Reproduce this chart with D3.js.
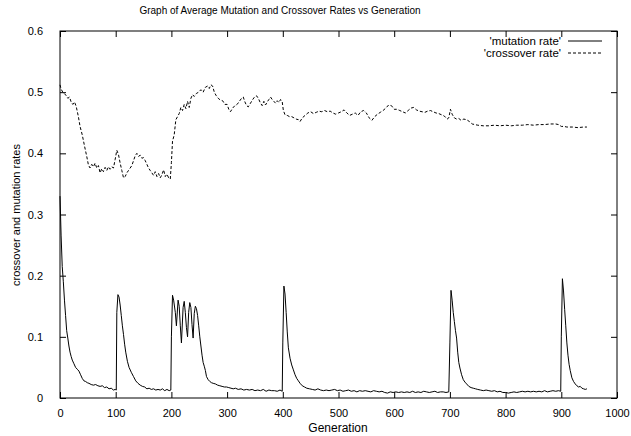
<!DOCTYPE html>
<html>
<head>
<meta charset="utf-8">
<script src="https://cdn.jsdelivr.net/npm/d3@7"></script>
<style>
  body { margin: 0; background: #fff; }
  svg { display: block; font-family: "Liberation Sans", Arial, sans-serif; }
</style>
</head>
<body>
<svg id="chart" width="631" height="436"></svg>
<script>
// crossover rate, [generation, value]
const crossoverRate = [
  [0,0.512],[2,0.505],[5,0.500],[8,0.497],[11,0.495],[14,0.490],[17,0.492],[20,0.484],[23,0.480],[26,0.484],
  [29,0.477],[33,0.460],[36,0.444],[40,0.430],[44,0.412],[48,0.395],[51,0.381],[54,0.376],[57,0.382],[60,0.378],
  [63,0.384],[66,0.376],[69,0.380],[72,0.368],[75,0.375],[78,0.370],[81,0.377],[84,0.372],[87,0.378],[90,0.374],
  [93,0.378],[96,0.376],[99,0.390],[102,0.405],[105,0.398],[108,0.384],[111,0.372],[114,0.360],[117,0.362],[120,0.368],
  [123,0.372],[126,0.376],[129,0.380],[132,0.388],[135,0.396],[138,0.400],[141,0.395],[144,0.397],[147,0.392],[150,0.393],
  [153,0.388],[156,0.382],[159,0.376],[162,0.372],[165,0.368],[168,0.364],[171,0.370],[174,0.362],[177,0.367],[180,0.360],
  [183,0.365],[186,0.373],[189,0.362],[192,0.366],[195,0.360],[198,0.358],[200,0.385],[202,0.420],[205,0.430],[208,0.455],
  [211,0.460],[214,0.465],[217,0.475],[220,0.470],[223,0.480],[226,0.473],[229,0.485],[232,0.475],[235,0.490],[238,0.496],
  [241,0.493],[245,0.498],[249,0.500],[253,0.504],[257,0.500],[261,0.508],[265,0.510],[268,0.506],[271,0.512],[274,0.510],
  [277,0.500],[280,0.495],[284,0.490],[288,0.487],[292,0.486],[296,0.480],[300,0.480],[303,0.472],[306,0.468],[310,0.474],
  [314,0.478],[318,0.480],[322,0.485],[326,0.490],[329,0.492],[332,0.484],[335,0.478],[338,0.476],[342,0.482],[346,0.488],
  [350,0.493],[353,0.494],[356,0.490],[360,0.482],[363,0.478],[366,0.485],[369,0.479],[372,0.484],[375,0.488],[378,0.492],
  [381,0.488],[384,0.485],[387,0.482],[390,0.486],[393,0.483],[396,0.488],[399,0.484],[401,0.470],[404,0.463],[408,0.462],
  [412,0.460],[416,0.460],[420,0.458],[424,0.456],[428,0.455],[431,0.452],[435,0.458],[440,0.462],[445,0.466],[450,0.468],
  [455,0.465],[460,0.467],[465,0.469],[470,0.468],[475,0.470],[480,0.468],[485,0.469],[490,0.466],[495,0.464],[500,0.466],
  [505,0.468],[510,0.471],[515,0.466],[520,0.462],[525,0.464],[530,0.466],[535,0.462],[540,0.468],[545,0.470],[550,0.466],
  [555,0.458],[560,0.454],[565,0.460],[570,0.464],[575,0.467],[580,0.470],[585,0.474],[590,0.479],[595,0.478],[600,0.472],
  [605,0.472],[610,0.470],[615,0.468],[620,0.466],[625,0.470],[630,0.474],[635,0.475],[640,0.471],[645,0.469],[650,0.468],
  [655,0.467],[660,0.469],[665,0.470],[670,0.468],[675,0.466],[680,0.465],[685,0.463],[690,0.461],[695,0.456],[698,0.458],
  [701,0.472],[704,0.464],[708,0.458],[712,0.456],[716,0.457],[720,0.454],[725,0.456],[730,0.455],[735,0.452],[740,0.448],
  [745,0.447],[750,0.446],[760,0.445],[770,0.445],[780,0.446],[790,0.445],[800,0.446],[810,0.445],[820,0.446],[830,0.446],
  [840,0.447],[850,0.446],[860,0.447],[870,0.447],[880,0.448],[890,0.448],[895,0.447],[900,0.444],[905,0.444],[910,0.443],
  [920,0.443],[930,0.442],[940,0.443],[946,0.443]
];

// mutation rate, [generation, value]
const mutationRate = [
  [0,0.330],[2,0.265],[4,0.215],[6,0.190],[8,0.160],[10,0.135],[12,0.110],[14,0.098],[16,0.085],[18,0.075],
  [20,0.068],[22,0.062],[25,0.056],[28,0.050],[31,0.047],[34,0.044],[37,0.038],[40,0.032],[43,0.028],[46,0.027],
  [49,0.025],[52,0.024],[56,0.022],[60,0.021],[64,0.022],[68,0.020],[72,0.019],[76,0.020],[80,0.017],[84,0.018],
  [88,0.015],[92,0.016],[96,0.013],[99,0.014],[101,0.013],[102,0.140],[104,0.169],[106,0.165],[108,0.152],[110,0.135],
  [112,0.118],[114,0.104],[116,0.088],[118,0.075],[121,0.060],[124,0.050],[128,0.042],[132,0.035],[136,0.028],[140,0.024],
  [144,0.021],[148,0.019],[152,0.018],[156,0.015],[160,0.016],[164,0.014],[168,0.015],[172,0.013],[176,0.014],[180,0.013],
  [184,0.015],[188,0.012],[192,0.014],[196,0.012],[199,0.013],[200,0.100],[202,0.168],[204,0.160],[207,0.140],[209,0.118],
  [212,0.160],[214,0.150],[216,0.118],[218,0.090],[221,0.148],[223,0.158],[225,0.140],[227,0.115],[229,0.100],[231,0.140],
  [233,0.156],[235,0.148],[237,0.120],[239,0.098],[241,0.138],[243,0.150],[245,0.146],[247,0.135],[249,0.118],[251,0.100],
  [253,0.085],[255,0.070],[257,0.058],[259,0.052],[261,0.045],[263,0.035],[266,0.030],[269,0.027],[272,0.025],[275,0.024],
  [279,0.023],[283,0.021],[287,0.020],[291,0.019],[295,0.018],[299,0.018],[303,0.017],[307,0.016],[311,0.015],[315,0.016],
  [320,0.014],[325,0.015],[330,0.013],[335,0.014],[340,0.013],[345,0.014],[350,0.012],[355,0.013],[360,0.012],[365,0.014],
  [370,0.011],[375,0.013],[380,0.012],[385,0.012],[390,0.011],[395,0.013],[399,0.011],[400,0.090],[402,0.183],[404,0.170],
  [406,0.140],[408,0.108],[410,0.082],[413,0.065],[416,0.054],[419,0.046],[422,0.038],[425,0.032],[428,0.028],[431,0.024],
  [435,0.020],[439,0.018],[443,0.016],[448,0.015],[453,0.014],[458,0.013],[463,0.015],[468,0.013],[473,0.012],[478,0.013],
  [483,0.012],[488,0.013],[493,0.014],[498,0.012],[503,0.013],[508,0.011],[513,0.012],[518,0.013],[523,0.011],[528,0.012],
  [533,0.010],[538,0.012],[543,0.011],[548,0.012],[553,0.011],[558,0.010],[563,0.012],[568,0.011],[573,0.010],[578,0.011],
  [583,0.009],[588,0.008],[593,0.010],[598,0.009],[603,0.010],[608,0.009],[613,0.010],[618,0.009],[623,0.010],[628,0.009],
  [633,0.011],[638,0.009],[643,0.010],[648,0.009],[653,0.011],[658,0.010],[663,0.009],[668,0.010],[673,0.011],[678,0.009],
  [683,0.010],[688,0.010],[693,0.009],[698,0.010],[700,0.090],[702,0.176],[704,0.160],[706,0.140],[708,0.125],[710,0.110],
  [712,0.098],[714,0.075],[716,0.058],[718,0.049],[721,0.038],[724,0.030],[727,0.026],[730,0.023],[734,0.019],[738,0.017],
  [742,0.016],[746,0.015],[750,0.014],[755,0.013],[760,0.012],[765,0.013],[770,0.012],[775,0.011],[780,0.012],[785,0.010],
  [790,0.011],[795,0.009],[800,0.009],[805,0.008],[810,0.009],[815,0.010],[820,0.009],[825,0.010],[830,0.011],[835,0.010],
  [840,0.011],[845,0.010],[850,0.011],[855,0.010],[860,0.011],[865,0.010],[870,0.012],[875,0.010],[880,0.011],[885,0.012],
  [890,0.011],[895,0.012],[899,0.011],[900,0.100],[902,0.195],[904,0.175],[906,0.145],[908,0.118],[910,0.090],[912,0.070],
  [914,0.055],[916,0.045],[919,0.033],[922,0.027],[925,0.023],[928,0.020],[931,0.018],[934,0.019],[937,0.016],[940,0.015],
  [943,0.014],[946,0.015]
];

const xTicks = [0, 100, 200, 300, 400, 500, 600, 700, 800, 900, 1000];
const yTicks = [0, 0.1, 0.2, 0.3, 0.4, 0.5, 0.6];
const seriesNames = ["'mutation rate'", "'crossover rate'"];

const plotLeft = 60, plotRight = 617, plotTop = 31, plotBottom = 398;
const svg = d3.select('#chart');

const x = d3.scaleLinear().domain([0, 1000]).range([plotLeft, plotRight]);
const y = d3.scaleLinear().domain([0, 0.6]).range([plotBottom, plotTop]);

// axes, gnuplot style: ticks inward and mirrored
const tickLen = 6;
svg.append('g').attr('transform', `translate(0,${plotBottom})`)
  .call(d3.axisBottom(x).tickValues(xTicks).tickFormat(d3.format('d')).tickSizeInner(-tickLen).tickSizeOuter(0).tickPadding(11));
svg.append('g').attr('transform', `translate(0,${plotTop})`)
  .call(d3.axisTop(x).tickValues(xTicks).tickFormat('').tickSizeInner(-tickLen).tickSizeOuter(0));
svg.append('g').attr('transform', `translate(${plotLeft},0)`)
  .call(d3.axisLeft(y).tickValues(yTicks).tickFormat(d => d === 0 ? '0' : d3.format('.1f')(d)).tickSizeInner(-tickLen).tickSizeOuter(0).tickPadding(17));
svg.append('g').attr('transform', `translate(${plotRight},0)`)
  .call(d3.axisRight(y).tickValues(yTicks).tickFormat('').tickSizeInner(-tickLen).tickSizeOuter(0));

svg.selectAll('.domain').remove();
svg.selectAll('.tick line').attr('stroke', '#000');
svg.selectAll('.tick text').attr('font-size', 11).attr('fill', '#000')
  .attr('font-family', '"Liberation Sans", Arial, sans-serif');

// border
svg.append('rect')
  .attr('x', plotLeft).attr('y', plotTop)
  .attr('width', plotRight - plotLeft).attr('height', plotBottom - plotTop)
  .attr('fill', 'none').attr('stroke', '#000').attr('stroke-width', 1);

const line = d3.line().x(d => x(d[0])).y(d => y(d[1]));

svg.append('path').datum(mutationRate)
  .attr('d', line).attr('fill', 'none').attr('stroke', '#000').attr('stroke-width', 1);
svg.append('path').datum(crossoverRate)
  .attr('d', line).attr('fill', 'none').attr('stroke', '#000').attr('stroke-width', 1)
  .attr('stroke-dasharray', '3,2');

// legend
const legend = svg.append('g');
seriesNames.forEach((name, i) => {
  const ly = 41 + i * 12;
  legend.append('text').attr('x', 561).attr('y', ly).attr('dy', '0.35em')
    .attr('text-anchor', 'end').attr('font-size', 11.5).text(name);
  legend.append('line').attr('x1', 568).attr('x2', 602).attr('y1', ly).attr('y2', ly)
    .attr('stroke', '#000').attr('stroke-dasharray', i === 1 ? '3,2' : null);
});

// title and axis labels
svg.append('text').attr('x', 280).attr('y', 14).attr('text-anchor', 'middle')
  .attr('font-size', 10).text('Graph of Average Mutation and Crossover Rates vs Generation');
svg.append('text').attr('x', 338).attr('y', 432).attr('text-anchor', 'middle')
  .attr('font-size', 12).text('Generation');
svg.append('text').attr('transform', 'translate(20,215) rotate(-90)').attr('text-anchor', 'middle')
  .attr('font-size', 11).text('crossover and mutation rates');
</script>
</body>
</html>
